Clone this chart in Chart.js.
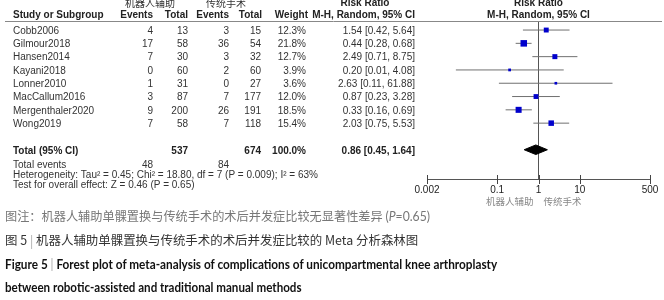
<!DOCTYPE html>
<html><head><meta charset="utf-8">
<script src="https://cdn.jsdelivr.net/npm/chart.js@4/dist/chart.umd.min.js"></script>
<style>
html,body{margin:0;padding:0;background:#fff;}
#wrap{position:relative;width:664px;height:300px;overflow:hidden;}
#c{position:absolute;left:0;top:0;}
.cap{position:absolute;left:5px;white-space:nowrap;transform-origin:0 50%;line-height:16px;height:16px;}
.zh{font-family:"Noto Sans CJK SC","Noto Sans",sans-serif;font-size:12.5px;}
.en{font-family:Lato,"Open Sans",sans-serif;font-size:13px;font-weight:700;color:#111;}
.bar{color:#aaa;font-weight:400;}
</style></head><body>
<div id="wrap">
<canvas id="c" width="664" height="300"></canvas>
<div class="cap zh" id="cap1" data-w="425" data-c="216" style="color:#777">图注：机器人辅助单髁置换与传统手术的术后并发症比较无显著性差异 <span style="font-family:Lato,sans-serif">(<i>P</i>=0.65)</span></div>
<div class="cap zh" id="cap2" data-w="413" data-c="240" style="color:#333">图 5 <span class="bar">|</span> 机器人辅助单髁置换与传统手术的术后并发症比较的 Meta 分析森林图</div>
<div class="cap en" id="cap3" data-w="492" data-c="264">Figure 5 <span class="bar">|</span> Forest plot of meta-analysis of complications of unicompartmental knee arthroplasty</div>
<div class="cap en" id="cap4" data-w="297" data-c="287">between robotic-assisted and traditional manual methods</div>
</div>
<script>
// ---- data ----
const studies = ['Cobb2006','Gilmour2018','Hansen2014','Kayani2018','Lonner2010','MacCallum2016','Mergenthaler2020','Wong2019'];
const robotEvents = [4,17,7,0,1,3,9,7];
const robotTotal = [13,58,30,60,31,87,200,58];
const manualEvents = [3,36,3,2,0,7,26,7];
const manualTotal = [15,54,32,60,27,177,191,118];
const weights = [12.3,21.8,12.7,3.9,3.6,12.0,18.5,15.4];
const riskRatio = [1.54,0.44,2.49,0.20,2.63,0.87,0.33,2.03];
const ciLow = [0.42,0.28,0.71,0.01,0.11,0.23,0.16,0.75];
const ciHigh = [5.64,0.68,8.75,4.08,61.88,3.28,0.69,5.53];
const pooledRR = [0.86, 0.45, 1.64];      // estimate, low, high
const pooledTotals = [537, 674];          // robot, manual
const pooledEvents = [48, 84];            // robot, manual
const heterogeneity = ['0.45','18.80','7','0.009','63']; // Tau2, Chi2, df, P, I2
const overallEffect = ['0.46','0.65'];    // Z, P
const xTicks = [0.002, 0.1, 1, 10, 500];
const xTickLabels = ['0.002','0.1','1','10','500'];
const groupLabels = ['机器人辅助','传统手术'];

// ---- chart ----
const TOTAL_ROW = 9;
const FONT = '"Liberation Sans", Arial, sans-serif';
const CJK = '"Noto Sans CJK SC", sans-serif';
const datasets = [];
datasets.push({
  data: riskRatio.map((v,i)=>({x:v,y:i})),
  pointStyle:'rect', backgroundColor:'#0000cc', borderWidth:0,
  pointRadius: c => 1.4*Math.sqrt(weights[c.dataIndex]) / Math.SQRT2,
  order:0
});
studies.forEach((s,i)=>{
  datasets.push({
    data:[{x:ciLow[i],y:i},{x:ciHigh[i],y:i}], showLine:true,
    borderColor:'#707070', borderWidth:1, pointRadius:0, order:2
  });
});
const dh = 0.36;
datasets.push({
  data:[{x:pooledRR[1],y:TOTAL_ROW},{x:pooledRR[0],y:TOTAL_ROW-dh},{x:pooledRR[2],y:TOTAL_ROW},{x:pooledRR[0],y:TOTAL_ROW+dh},{x:pooledRR[1],y:TOTAL_ROW}],
  showLine:true, fill:'shape', backgroundColor:'#000', borderColor:'#000', borderWidth:1, pointRadius:0, tension:0, order:1
});

function txt(ctx, s, x, y, align, font, color){
  ctx.font = font; ctx.fillStyle = color || '#222';
  ctx.textAlign = align; ctx.textBaseline = 'middle';
  ctx.fillText(s, x, y);
}
const tablePlugin = {
  id:'table',
  afterDraw(chart){
    const ctx = chart.ctx, ys = chart.scales.y, xs = chart.scales.x;
    const ca = chart.chartArea;
    ctx.save();
    // tick marks crossing axis
    ctx.strokeStyle = '#444'; ctx.lineWidth = 1;
    xs.ticks.forEach(t=>{
      const px = Math.round(xs.getPixelForValue(t.value))+0.5;
      ctx.beginPath(); ctx.moveTo(px, ca.bottom-4); ctx.lineTo(px, ca.bottom+5); ctx.stroke();
    });
    // header line
    ctx.strokeStyle = '#888';
    ctx.beginPath(); ctx.moveTo(5, Math.round(ca.top)+0.5); ctx.lineTo(662, Math.round(ca.top)+0.5); ctx.stroke();
    const B = 'bold 10px '+FONT, N = '10px '+FONT;
    const hy = 15, gy = 3;
    const x1 = xs.getPixelForValue(1);
    txt(ctx, groupLabels[0], 150, gy, 'center', '10px '+CJK, '#333');
    txt(ctx, groupLabels[1], 226, gy, 'center', '10px '+CJK, '#333');
    txt(ctx, 'Risk Ratio', 365, gy, 'center', B);
    txt(ctx, 'Risk Ratio', x1, gy, 'center', B);
    txt(ctx, 'Study or Subgroup', 13, hy, 'left', B);
    txt(ctx, 'Events', 153, hy, 'right', B);
    txt(ctx, 'Total', 188, hy, 'right', B);
    txt(ctx, 'Events', 229, hy, 'right', B);
    txt(ctx, 'Total', 262, hy, 'right', B);
    txt(ctx, 'Weight', 308, hy, 'right', B);
    txt(ctx, 'M-H, Random, 95% CI', 415, hy, 'right', B);
    txt(ctx, 'M-H, Random, 95% CI', x1, hy, 'center', B);
    studies.forEach((s,i)=>{
      const y = ys.getPixelForValue(i)+1;
      txt(ctx, s, 13, y, 'left', N, '#333');
      txt(ctx, String(robotEvents[i]), 153, y, 'right', N, '#333');
      txt(ctx, String(robotTotal[i]), 188, y, 'right', N, '#333');
      txt(ctx, String(manualEvents[i]), 229, y, 'right', N, '#333');
      txt(ctx, String(manualTotal[i]), 261, y, 'right', N, '#333');
      txt(ctx, weights[i].toFixed(1)+'%', 306, y, 'right', N, '#333');
      txt(ctx, riskRatio[i].toFixed(2)+' ['+ciLow[i].toFixed(2)+', '+ciHigh[i].toFixed(2)+']', 415, y, 'right', N, '#333');
    });
    const ty = ys.getPixelForValue(TOTAL_ROW)+2;
    txt(ctx, 'Total (95% CI)', 13, ty, 'left', B);
    txt(ctx, String(pooledTotals[0]), 188, ty, 'right', B);
    txt(ctx, String(pooledTotals[1]), 261, ty, 'right', B);
    txt(ctx, '100.0%', 306, ty, 'right', B);
    txt(ctx, pooledRR[0].toFixed(2)+' ['+pooledRR[1].toFixed(2)+', '+pooledRR[2].toFixed(2)+']', 415, ty, 'right', B);
    txt(ctx, 'Total events', 13, ty+14, 'left', N, '#333');
    txt(ctx, String(pooledEvents[0]), 153, ty+14, 'right', N, '#333');
    txt(ctx, String(pooledEvents[1]), 229, ty+14, 'right', N, '#333');
    txt(ctx, 'Heterogeneity: Tau² = '+heterogeneity[0]+'; Chi² = '+heterogeneity[1]+', df = '+heterogeneity[2]+' (P = '+heterogeneity[3]+'); I² = '+heterogeneity[4]+'%', 13, ty+24, 'left', N, '#333');
    txt(ctx, 'Test for overall effect: Z = '+overallEffect[0]+' (P = '+overallEffect[1]+')', 13, ty+34, 'left', N, '#333');
    // favours labels
    txt(ctx, groupLabels[0], x1-5, ca.bottom+22, 'right', '9.5px '+CJK, '#888');
    txt(ctx, groupLabels[1], x1+5, ca.bottom+22, 'left', '9.5px '+CJK, '#888');
    ctx.restore();
  }
};

new Chart(document.getElementById('c'), {
  type:'scatter',
  data:{datasets},
  options:{
    responsive:false, animation:false, devicePixelRatio:1,
    layout:{padding:{left:427, right:14, top:21, bottom:101}},
    plugins:{legend:{display:false}, tooltip:{enabled:false}},
    scales:{
      x:{
        type:'logarithmic', min:0.002, max:500,
        afterBuildTicks: s => { s.ticks = xTicks.map(v=>({value:v})); },
        afterFit: s => { s.height = 20; },
        ticks:{autoSkip:false, maxRotation:0, padding:5, color:'#222', font:{family:FONT, size:10},
          callback:(v,i)=>xTickLabels[i]},
        grid:{drawTicks:false, lineWidth:1, color: c => (c.tick && c.tick.value===1) ? '#555' : 'rgba(0,0,0,0)'},
        border:{display:true, color:'#555', width:1}
      },
      y:{type:'linear', reverse:true, min:-0.68, max:11.2, display:false}
    }
  },
  plugins:[tablePlugin]
});

// fit caption widths
document.querySelectorAll('.cap').forEach(el=>{
  const w = el.offsetWidth, tw = +el.dataset.w;
  el.style.top = (+el.dataset.c - 8) + 'px';
  el.style.transform = 'scaleX(' + (tw / w) + ')';
});
</script>
</body></html>
